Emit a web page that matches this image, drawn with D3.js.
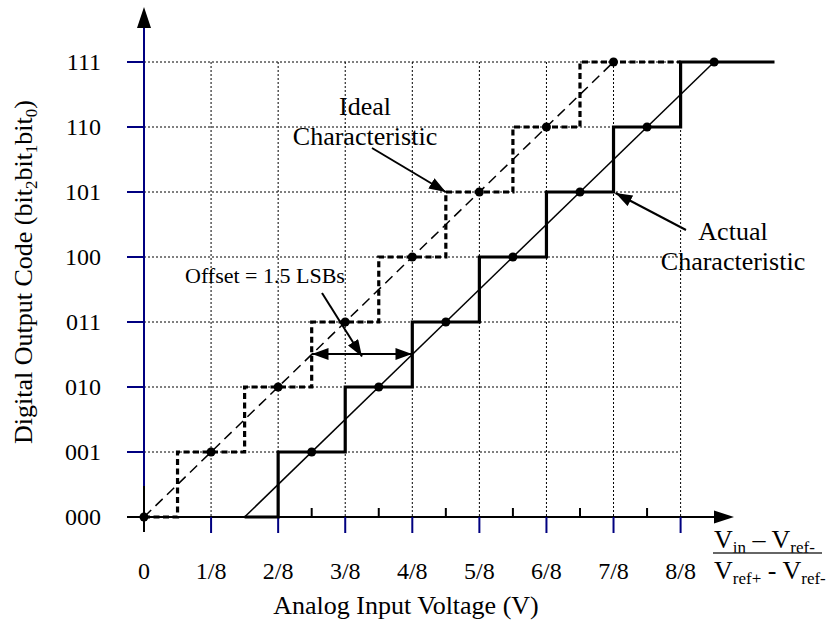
<!DOCTYPE html>
<html>
<head>
<meta charset="utf-8">
<script src="https://cdn.jsdelivr.net/npm/d3@7"></script>
<style>
  body { margin: 0; background: #fff; }
  text { font-family: "Liberation Serif", "Times New Roman", serif; fill: #000; }
</style>
</head>
<body>
<svg id="chart"></svg>
<script>
// data
const codeLabels = ["000", "001", "010", "011", "100", "101", "110", "111"];
const codeValues = [0, 1, 2, 3, 4, 5, 6, 7];
const xTickLabels = ["0", "1/8", "2/8", "3/8", "4/8", "5/8", "6/8", "7/8", "8/8"];
const xTickValues = [0, 1, 2, 3, 4, 5, 6, 7, 8];
const halfTicks = [2.5, 3.5, 4.5, 5.5, 6.5, 7.5];

// ideal ADC: code changes at half LSB
const idealStepX = [0, 0.5, 1.5, 2.5, 3.5, 4.5, 5.5, 6.5, 8];
const idealStepCode = [0, 1, 2, 3, 4, 5, 6, 7, 7];
const idealDotX = [0, 1, 2, 3, 4, 5, 6, 7];
const idealDotCode = [0, 1, 2, 3, 4, 5, 6, 7];
const idealLineX = [0, 7];
const idealLineCode = [0, 7];

// actual ADC: shifted by 1.5 LSB
const actualStepX = [1.5, 2, 3, 4, 5, 6, 7, 8, 9.4];
const actualStepCode = [0, 1, 2, 3, 4, 5, 6, 7, 7];
const actualDotX = [2.5, 3.5, 4.5, 5.5, 6.5, 7.5, 8.5];
const actualDotCode = [1, 2, 3, 4, 5, 6, 7];
const actualLineX = [1.5, 8.5];
const actualLineCode = [0, 7];

const width = 831;
const height = 626;
const svg = d3.select("#chart").attr("width", width).attr("height", height);

const x = d3.scaleLinear().domain([0, 8]).range([144, 680.6]);
const y = d3.scaleLinear().domain([0, 7]).range([517, 62]);

const defs = svg.append("defs");
defs.append("marker")
  .attr("id", "head")
  .attr("viewBox", "0 0 14 10")
  .attr("refX", 14)
  .attr("refY", 5)
  .attr("markerWidth", 17)
  .attr("markerHeight", 12)
  .attr("markerUnits", "userSpaceOnUse")
  .attr("orient", "auto-start-reverse")
  .append("path")
  .attr("d", "M0,0 L14,5 L0,10 Z")
  .attr("fill", "#000");

//grid
const grid = svg.append("g");
grid.selectAll(".vgrid")
  .data(xTickValues.slice(1))
  .enter()
  .append("line")
  .attr("x1", (d) => x(d))
  .attr("x2", (d) => x(d))
  .attr("y1", y(7))
  .attr("y2", y(0))
  .attr("stroke", "#000")
  .attr("stroke-width", 1)
  .attr("stroke-dasharray", "2,2");
grid.selectAll(".hgrid")
  .data(codeValues.slice(1))
  .enter()
  .append("line")
  .attr("x1", x(0))
  .attr("x2", x(8))
  .attr("y1", (d) => y(d))
  .attr("y2", (d) => y(d))
  .attr("stroke", "#000")
  .attr("stroke-width", 1)
  .attr("stroke-dasharray", "2,2");

//axes
const navy = "#000080";
svg.append("line")
  .attr("x1", x(0)).attr("x2", x(0))
  .attr("y1", 26).attr("y2", y(0))
  .attr("stroke", navy).attr("stroke-width", 2);
svg.append("line")
  .attr("x1", x(0)).attr("x2", x(0))
  .attr("y1", y(0) - 31).attr("y2", y(0) + 15)
  .attr("stroke", "#000").attr("stroke-width", 2);
svg.append("path")
  .attr("d", `M${x(0)},7 L${x(0) + 7},28 L${x(0) - 7},28 Z`)
  .attr("fill", "#000");
svg.selectAll(".ytick")
  .data(codeValues.slice(1))
  .enter()
  .append("line")
  .attr("x1", x(0) - 17).attr("x2", x(0))
  .attr("y1", (d) => y(d)).attr("y2", (d) => y(d))
  .attr("stroke", navy).attr("stroke-width", 2);

svg.append("line")
  .attr("x1", 127).attr("x2", 716)
  .attr("y1", y(0)).attr("y2", y(0))
  .attr("stroke", "#000").attr("stroke-width", 2);
svg.append("path")
  .attr("d", `M734,${y(0)} L714,${y(0) - 6.5} L714,${y(0) + 6.5} Z`)
  .attr("fill", "#000");
svg.selectAll(".xtick")
  .data(xTickValues.slice(1))
  .enter()
  .append("line")
  .attr("x1", (d) => x(d)).attr("x2", (d) => x(d))
  .attr("y1", y(0)).attr("y2", y(0) + 16)
  .attr("stroke", navy).attr("stroke-width", 2);
svg.selectAll(".htick")
  .data(halfTicks)
  .enter()
  .append("line")
  .attr("x1", (d) => x(d)).attr("x2", (d) => x(d))
  .attr("y1", y(0)).attr("y2", y(0) - 9)
  .attr("stroke", "#000").attr("stroke-width", 2);

//tick labels
svg.selectAll(".ylab")
  .data(codeLabels)
  .enter()
  .append("text")
  .attr("x", 101)
  .attr("y", (d, i) => y(codeValues[i]) + 8)
  .attr("text-anchor", "end")
  .style("font-size", "24px")
  .text((d) => d);
svg.selectAll(".xlab")
  .data(xTickLabels)
  .enter()
  .append("text")
  .attr("x", (d, i) => x(xTickValues[i]))
  .attr("y", 579)
  .attr("text-anchor", "middle")
  .style("font-size", "24px")
  .text((d) => d);

//axis titles
svg.append("text")
  .attr("x", 406)
  .attr("y", 614)
  .attr("text-anchor", "middle")
  .style("font-size", "26px")
  .text("Analog Input Voltage (V)");
const yt = svg.append("text")
  .attr("transform", "translate(32,272) rotate(-90)")
  .attr("text-anchor", "middle")
  .style("font-size", "26px");
yt.append("tspan").text("Digital Output Code (bit");
yt.append("tspan").attr("dy", 5).style("font-size", "17px").text("2");
yt.append("tspan").attr("dy", -5).text("bit");
yt.append("tspan").attr("dy", 5).style("font-size", "17px").text("1");
yt.append("tspan").attr("dy", -5).text("bit");
yt.append("tspan").attr("dy", 5).style("font-size", "17px").text("0");
yt.append("tspan").attr("dy", -5).text(")");

//fraction label
const num = svg.append("text").attr("x", 714).attr("y", 548).style("font-size", "26px");
num.append("tspan").text("V");
num.append("tspan").attr("dy", 5).style("font-size", "17px").text("in");
num.append("tspan").attr("dy", -5).text(" \u2013 V");
num.append("tspan").attr("dy", 5).style("font-size", "17px").text("ref-");
svg.append("line")
  .attr("x1", 713).attr("x2", 822)
  .attr("y1", 553).attr("y2", 553)
  .attr("stroke", "#333").attr("stroke-width", 1.5);
const den = svg.append("text").attr("x", 714).attr("y", 579).style("font-size", "26px");
den.append("tspan").text("V");
den.append("tspan").attr("dy", 5).style("font-size", "17px").text("ref+");
den.append("tspan").attr("dy", -5).text(" - V");
den.append("tspan").attr("dy", 5).style("font-size", "17px").text("ref-");

//characteristics
const line = d3.line().x((d) => x(d[0])).y((d) => y(d[1]));
const step = d3.line().x((d) => x(d[0])).y((d) => y(d[1])).curve(d3.curveStepAfter);

svg.append("path")
  .datum(idealLineX.map((v, i) => [v, idealLineCode[i]]))
  .attr("d", line)
  .attr("fill", "none")
  .attr("stroke", "#000")
  .attr("stroke-width", 1.5)
  .attr("stroke-dasharray", "10,6");
svg.append("path")
  .datum(actualLineX.map((v, i) => [v, actualLineCode[i]]))
  .attr("d", line)
  .attr("fill", "none")
  .attr("stroke", "#000")
  .attr("stroke-width", 1.5);
svg.append("path")
  .datum(idealStepX.map((v, i) => [v, idealStepCode[i]]))
  .attr("d", step)
  .attr("fill", "none")
  .attr("stroke", "#000")
  .attr("stroke-width", 3.2)
  .attr("stroke-dasharray", "6,3.5");
svg.append("path")
  .datum(actualStepX.map((v, i) => [v, actualStepCode[i]]))
  .attr("d", step)
  .attr("fill", "none")
  .attr("stroke", "#000")
  .attr("stroke-width", 3.2);

svg.selectAll(".idot")
  .data(idealDotX)
  .enter()
  .append("circle")
  .attr("cx", (d) => x(d))
  .attr("cy", (d, i) => y(idealDotCode[i]))
  .attr("r", 4.5);
svg.selectAll(".adot")
  .data(actualDotX)
  .enter()
  .append("circle")
  .attr("cx", (d) => x(d))
  .attr("cy", (d, i) => y(actualDotCode[i]))
  .attr("r", 4.5);

//annotations
const arrow = (x1, y1, x2, y2, both) => {
  const l = svg.append("line")
    .attr("x1", x1).attr("y1", y1)
    .attr("x2", x2).attr("y2", y2)
    .attr("stroke", "#000").attr("stroke-width", 2)
    .attr("marker-end", "url(#head)");
  if (both) l.attr("marker-start", "url(#head)");
};
arrow(372, 148, x(4.5), y(5), false);
arrow(686, 230, x(7) + 2, y(5) + 1, false);
arrow(322, 293, x(3.25), y(2.5) + 2, false);
arrow(x(2.5), 354, x(4), 354, true);

svg.append("text").attr("x", 365).attr("y", 115).attr("text-anchor", "middle")
  .style("font-size", "26px").text("Ideal");
svg.append("text").attr("x", 365).attr("y", 145).attr("text-anchor", "middle")
  .style("font-size", "26px").text("Characteristic");
svg.append("text").attr("x", 733).attr("y", 240).attr("text-anchor", "middle")
  .style("font-size", "26px").text("Actual");
svg.append("text").attr("x", 733).attr("y", 270).attr("text-anchor", "middle")
  .style("font-size", "26px").text("Characteristic");
svg.append("text").attr("x", 185).attr("y", 283)
  .style("font-size", "22px").text("Offset = 1.5 LSBs");
</script>
</body>
</html>
